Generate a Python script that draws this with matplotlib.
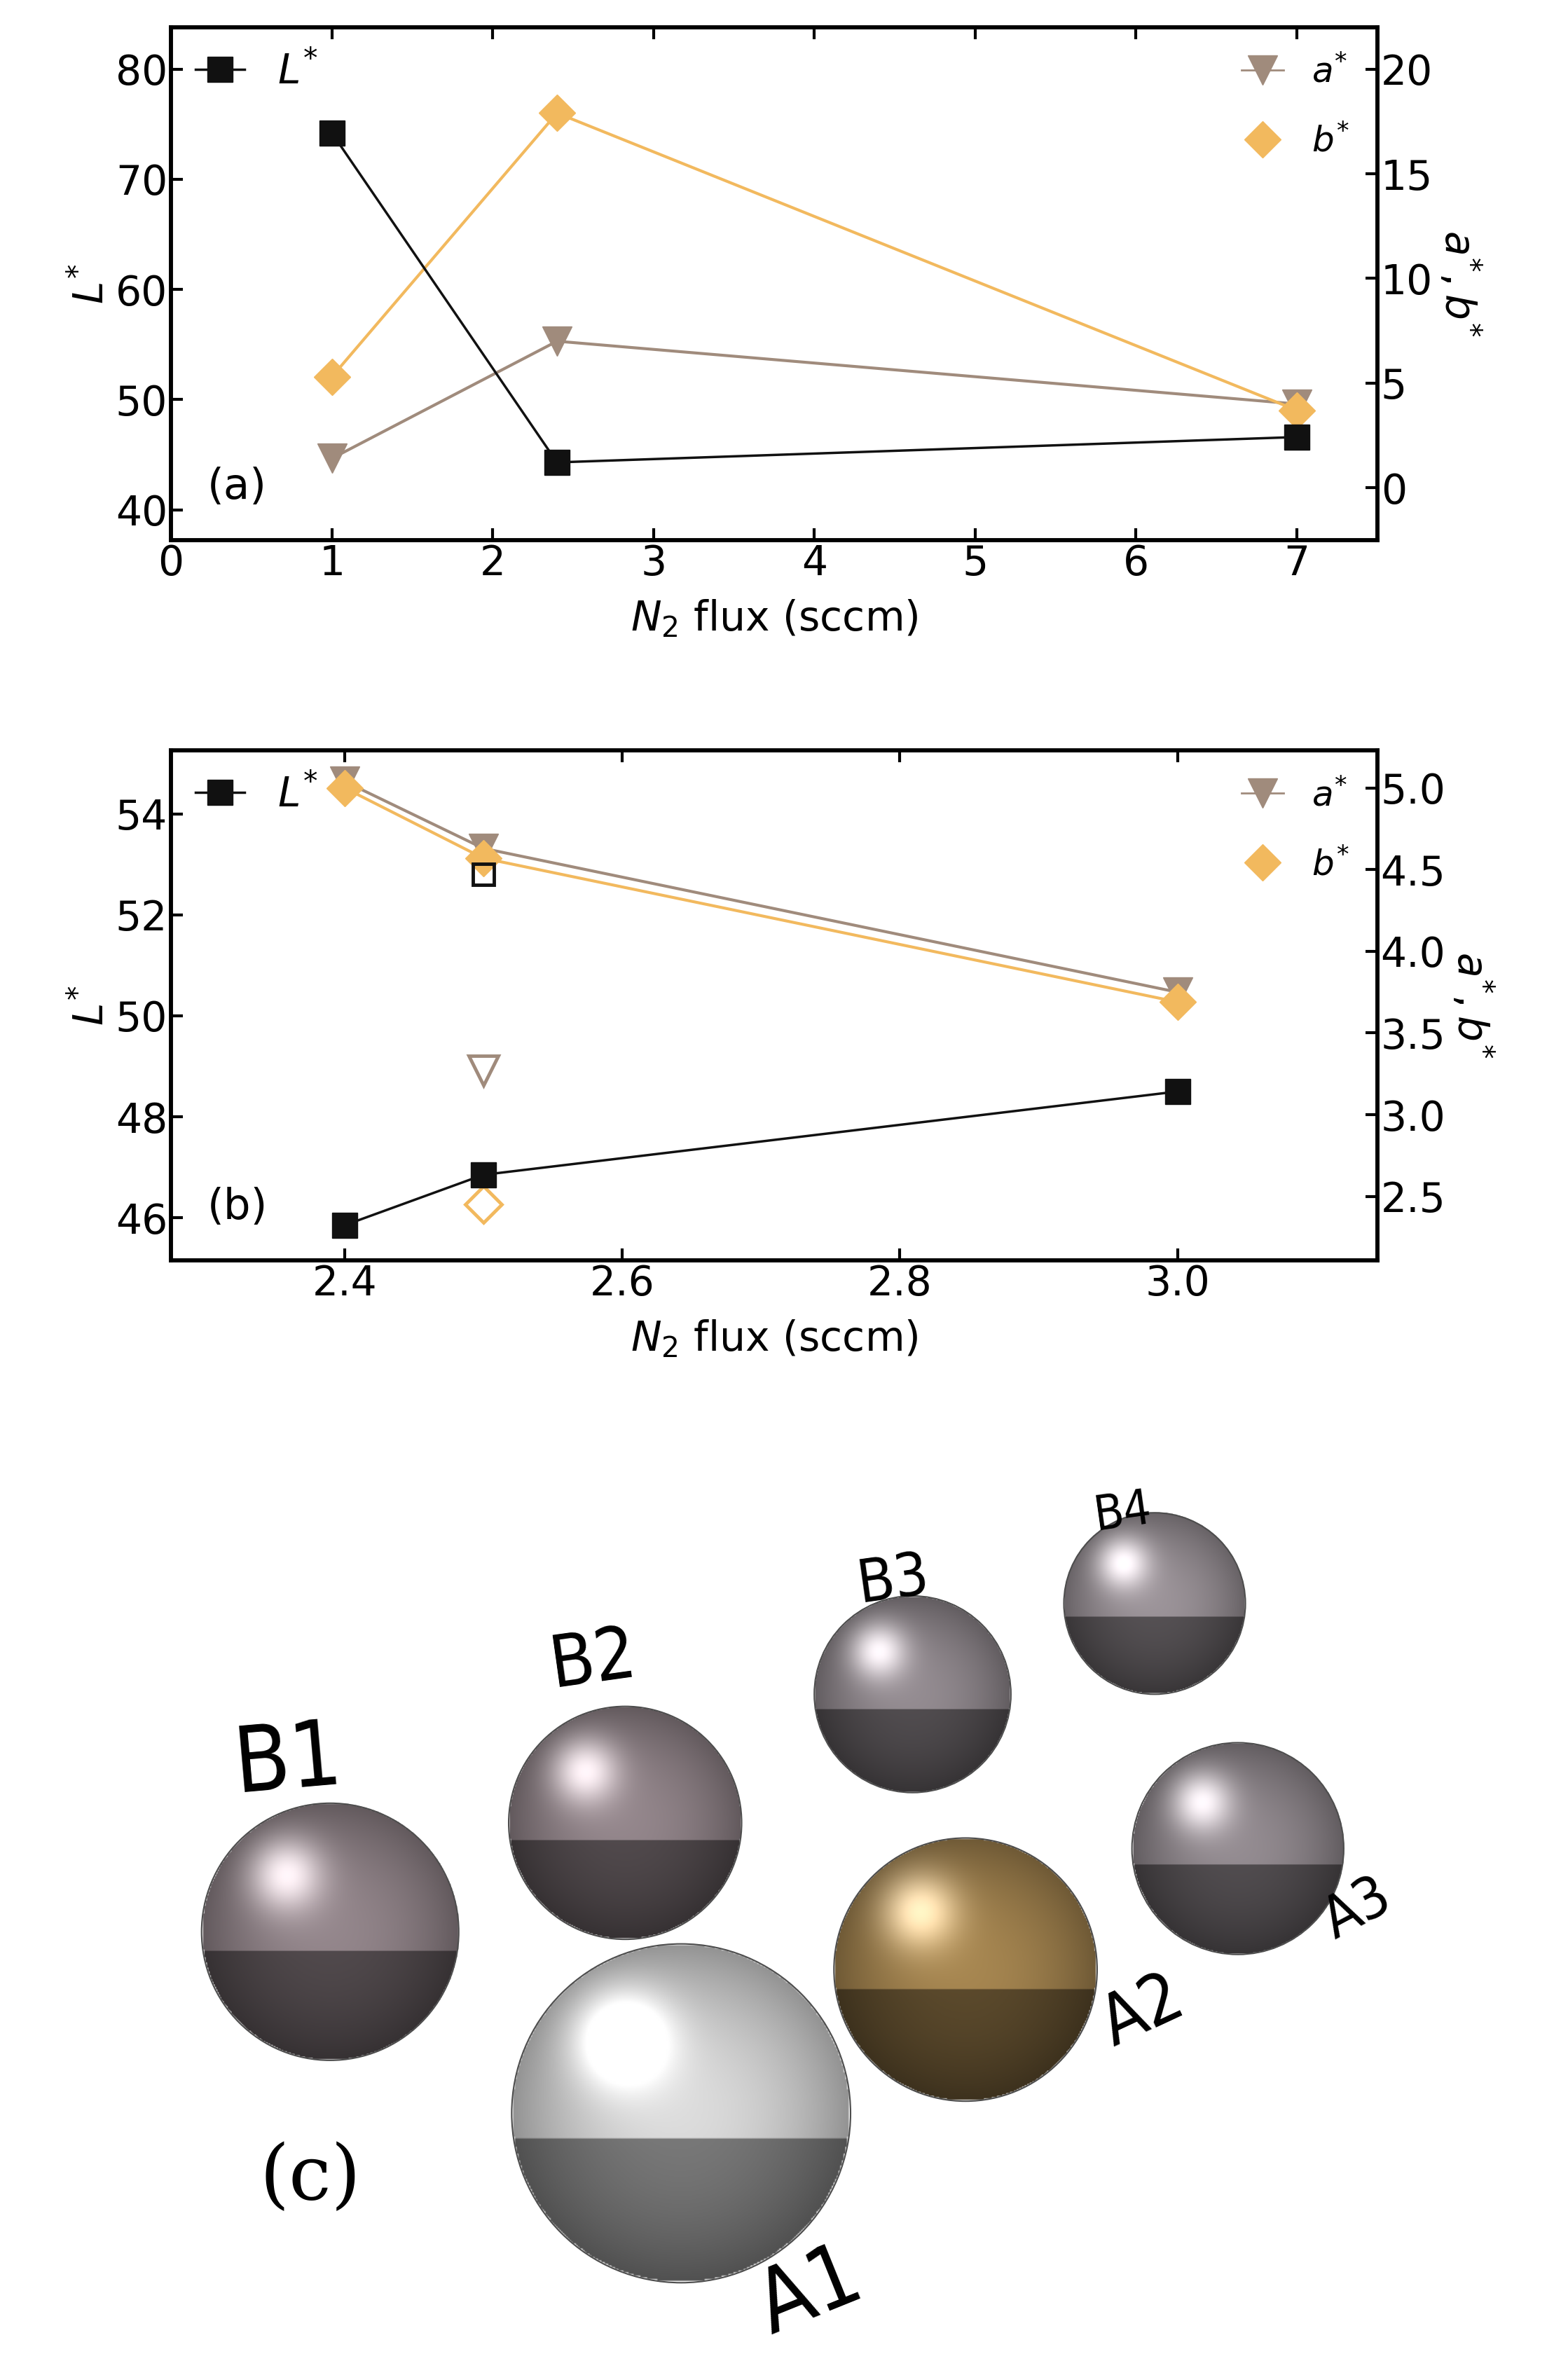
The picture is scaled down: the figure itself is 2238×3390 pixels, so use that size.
import numpy as np
import matplotlib
matplotlib.use("Agg")
import matplotlib.pyplot as plt
from matplotlib.lines import Line2D
from matplotlib.patches import Circle

plt.rcParams['font.family'] = ['DejaVu Sans']
plt.rcParams['mathtext.fontset'] = 'dejavusans'

# Panel (a)
xa = [1, 2.4, 7]
La = [74.2, 44.3, 46.6]
aa = [1.4, 7.0, 4.0]
ba = [5.3, 17.9, 3.7]
# Panel (b)
xb = [2.4, 2.5, 3.0]
Lb = [45.85, 46.85, 48.5]
ab = [5.04, 4.63, 3.75]
bb = [5.0, 4.57, 3.69]
xb_open = [2.5]
Lb_open = [52.8]
ab_open = [3.27]
bb_open = [2.45]

BLK = '#111111'; BRN = '#a08b7c'; ORG = '#f2b95e'
W, H = 1036, 1570
fig = plt.figure(figsize=(22.38, 33.9), dpi=100)
FS = 42

def box(x0, y0, x1, y1):
    return [x0/W, 1-y1/H, (x1-x0)/W, (y1-y0)/H]

def style(ax, ax2):
    for a in (ax, ax2):
        for s in a.spines.values():
            s.set_linewidth(4)
        a.tick_params(labelsize=FS, width=3, length=12, direction='in')
    ax.tick_params(top=True)

ms = 26
# (a)
ax = fig.add_axes(box(113, 18, 910, 357))
ax2 = ax.twinx()
ax.plot(xa, La, '-s', color=BLK, ms=ms, lw=2.5, zorder=3)
ax2.plot(xa, aa, '-v', color=BRN, ms=ms+4, lw=3)
ax2.plot(xa, ba, '-D', color=ORG, ms=ms, lw=3)
ax.set_xlim(0, 7.5); ax.set_ylim(37.25, 83.8)
ax2.set_ylim(-2.5, 22.0)
ax.set_xticks(range(8)); ax.set_yticks([40, 50, 60, 70, 80])
ax2.set_yticks([0, 5, 10, 15, 20])
ax.set_ylabel('$L^{*}$', fontsize=FS)
ax2.set_ylabel('$a^{*}, b^{*}$', fontsize=FS, rotation=270, labelpad=50)
ax.set_xlabel('$N_2$ flux (sccm)', fontsize=FS, labelpad=15)
ax.text(0.03, 0.08, '(a)', transform=ax.transAxes, fontsize=FS+2)
style(ax, ax2)
ax.set_zorder(ax2.get_zorder()+1); ax.patch.set_visible(False)

def legends(ax, ax2):
    ax.legend([Line2D([], [], color=BLK, marker='s', ms=ms, lw=2.5)], ['$L^{*}$'],
              loc='upper left', frameon=False, fontsize=FS, handlelength=1.2,
              borderaxespad=0.2)
    ax2.legend([Line2D([], [], color=BRN, marker='v', ms=ms+4, lw=2),
                Line2D([], [], color=ORG, marker='D', ms=ms, lw=0)],
               ['$a^{*}$', '$b^{*}$'], loc='upper right', frameon=False, fontsize=FS-6,
               handlelength=1.2, labelspacing=1.0, borderaxespad=0.4)
legends(ax, ax2)

# (b)
ax = fig.add_axes(box(113, 496, 910, 833))
ax2 = ax.twinx()
ax.plot(xb, Lb, '-s', color=BLK, ms=ms, lw=2.5, zorder=3)
ax.plot(xb_open, Lb_open, 's', mfc='none', mec=BLK, mew=3.5, ms=ms-4)
ax2.plot(xb, ab, '-v', color=BRN, ms=ms+4, lw=3)
ax2.plot(xb, bb, '-D', color=ORG, ms=ms, lw=3)
ax2.plot(xb_open, ab_open, 'v', mfc='none', mec=BRN, mew=3.5, ms=ms+4)
ax2.plot(xb_open, bb_open, 'D', mfc='none', mec=ORG, mew=3.5, ms=ms)
ax.set_xlim(2.275, 3.144); ax.set_ylim(45.16, 55.26)
ax2.set_ylim(2.11, 5.23)
ax.set_xticks([2.4, 2.6, 2.8, 3.0]); ax.set_xticklabels(['2.4', '2.6', '2.8', '3.0'])
ax.set_yticks([46, 48, 50, 52, 54])
ax2.set_yticks([2.5, 3.0, 3.5, 4.0, 4.5, 5.0])
ax.set_ylabel('$L^{*}$', fontsize=FS)
ax2.set_ylabel('$a^{*}, b^{*}$', fontsize=FS, rotation=270, labelpad=50)
ax.set_xlabel('$N_2$ flux (sccm)', fontsize=FS, labelpad=15)
ax.text(0.03, 0.08, '(b)', transform=ax.transAxes, fontsize=FS+2)
style(ax, ax2)
ax.set_zorder(ax2.get_zorder()+1); ax.patch.set_visible(False)
legends(ax, ax2)

# (c) spheres
axc = fig.add_axes([0, 0, 1, 1], zorder=-5)
axc.set_xlim(0, W); axc.set_ylim(H, 0); axc.axis('off')
spheres = [('B1', 218, 1277, 85, (0.55, 0.50, 0.52)),
           ('B2', 413, 1205, 77, (0.55, 0.50, 0.52)),
           ('B3', 603, 1120, 65, (0.55, 0.52, 0.54)),
           ('B4', 763, 1060, 60, (0.58, 0.55, 0.57)),
           ('A1', 450, 1397, 112, (0.82, 0.82, 0.82)),
           ('A2', 638, 1302, 87, (0.62, 0.50, 0.30)),
           ('A3', 818, 1222, 70, (0.55, 0.52, 0.54))]
n = 200
yy, xx = np.mgrid[-1:1:n*1j, -1:1:n*1j]
for name, cx, cy, r, col in spheres:
    rr = np.sqrt(xx**2 + yy**2)
    shade = 1.05 - 0.35*rr**2
    hl = np.exp(-((xx+0.35)**2 + (yy+0.45)**2)/0.08)*0.5
    floor = np.where(yy > 0.15, 0.55, 1.0)
    img = np.zeros((n, n, 4))
    for k in range(3):
        img[..., k] = np.clip(col[k]*shade*floor + hl, 0, 1)
    img[..., 3] = (rr <= 1).astype(float)
    axc.imshow(img, extent=[cx-r, cx+r, cy+r, cy-r], interpolation='bilinear', zorder=2)
    axc.add_patch(Circle((cx, cy), r, fill=False, ec=(0.3, 0.3, 0.3), lw=1.5, zorder=3))

labels = [('B1', 190, 1165, 5, 60), ('B2', 392, 1098, 8, 48), ('B3', 590, 1045, 8, 40),
          ('B4', 742, 1000, 8, 32), ('A1', 535, 1515, 22, 58), ('A2', 755, 1330, 25, 46),
          ('A3', 897, 1262, 28, 38)]
for t, x, y, rot, s in labels:
    axc.text(x, y, t, fontsize=s*2.16*0.72, rotation=rot, ha='center', va='center',
             family='DejaVu Sans', fontstretch='condensed')
axc.text(205, 1440, '(c)', fontsize=50*2.16*0.72, family='DejaVu Serif', ha='center', va='center')

fig.savefig('out.png', dpi=100)
